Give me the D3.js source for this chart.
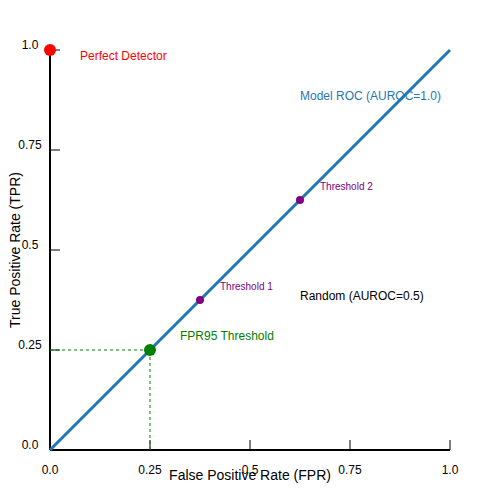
<!DOCTYPE html>
<html><head><meta charset="utf-8">
<script src="https://cdn.jsdelivr.net/npm/d3@7"></script>
<style>body{margin:0}text{font-family:"Liberation Sans",Arial,sans-serif}</style>
</head><body><svg width="500" height="500"></svg>
<script>
var svg = d3.select('svg');

var tickValues = [0, 0.25, 0.5, 0.75, 1];
var tickLabels = ['0.0', '0.25', '0.5', '0.75', '1.0'];
var rocLine = [[0, 0], [1, 1]];
var thresholds = [{name: 'Threshold 1', fpr: 0.375, tpr: 0.375}, {name: 'Threshold 2', fpr: 0.625, tpr: 0.625}];
var perfect = {fpr: 0, tpr: 1};
var fpr95 = {fpr: 0.25, tpr: 0.25};

var x = d3.scaleLinear().domain([0, 1]).range([50, 450]);
var y = d3.scaleLinear().domain([0, 1]).range([450, 50]);

// axes
svg.append('line').attr('x1', x(0)).attr('x2', x(1)).attr('y1', y(0)).attr('y2', y(0)).attr('stroke', 'black').attr('stroke-width', 2);
svg.append('line').attr('x1', x(0)).attr('x2', x(0)).attr('y1', y(0)).attr('y2', y(1)).attr('stroke', 'black').attr('stroke-width', 2);

tickValues.forEach(function (t, i) {
    svg.append('line').attr('x1', x(t)).attr('x2', x(t)).attr('y1', y(0)).attr('y2', y(0) - 10).attr('stroke', 'black');
    svg.append('text').attr('x', x(t)).attr('y', 474).attr('text-anchor', 'middle').attr('font-size', 12).text(tickLabels[i]);
    svg.append('line').attr('x1', x(0)).attr('x2', x(0) + 10).attr('y1', y(t)).attr('y2', y(t)).attr('stroke', 'black');
    svg.append('text').attr('x', 30).attr('y', y(t) - 1).attr('text-anchor', 'middle').attr('font-size', 12).text(tickLabels[i]);
});

// dashed guides
svg.append('line').attr('x1', x(0)).attr('x2', x(fpr95.fpr)).attr('y1', y(fpr95.tpr)).attr('y2', y(fpr95.tpr))
    .attr('stroke', 'green').attr('stroke-dasharray', '3,3');
svg.append('line').attr('x1', x(fpr95.fpr)).attr('x2', x(fpr95.fpr)).attr('y1', y(0)).attr('y2', y(fpr95.tpr))
    .attr('stroke', 'green').attr('stroke-dasharray', '3,3');

svg.append('path').datum(rocLine)
    .attr('d', d3.line().x(function (d) { return x(d[0]); }).y(function (d) { return y(d[1]); }))
    .attr('stroke', '#1f77b4').attr('stroke-width', 3).attr('fill', 'none');

svg.append('circle').attr('cx', x(perfect.fpr)).attr('cy', y(perfect.tpr)).attr('r', 6).attr('fill', 'red');
svg.append('circle').attr('cx', x(fpr95.fpr)).attr('cy', y(fpr95.tpr)).attr('r', 6).attr('fill', 'green');
svg.selectAll('.thr').data(thresholds).enter().append('circle')
    .attr('cx', function (d) { return x(d.fpr); })
    .attr('cy', function (d) { return y(d.tpr); })
    .attr('r', 4).attr('fill', 'purple');
svg.selectAll('.thrl').data(thresholds).enter().append('text')
    .attr('x', function (d) { return x(d.fpr) + 20; })
    .attr('y', function (d) { return y(d.tpr) - 10; })
    .attr('font-size', 10).attr('fill', 'purple')
    .text(function (d) { return d.name; });

svg.append('text').attr('x', 80).attr('y', 60).attr('font-size', 12).attr('fill', 'red').text('Perfect Detector');
svg.append('text').attr('x', 300).attr('y', 100).attr('font-size', 12).attr('fill', '#1f77b4').text('Model ROC (AUROC=1.0)');
svg.append('text').attr('x', 300).attr('y', 300).attr('font-size', 12).attr('fill', 'black').text('Random (AUROC=0.5)');
svg.append('text').attr('x', 180).attr('y', 340).attr('font-size', 12).attr('fill', 'green').text('FPR95 Threshold');

svg.append('text').attr('x', 250).attr('y', 480).attr('text-anchor', 'middle').attr('font-size', 14).text('False Positive Rate (FPR)');
svg.append('text').attr('transform', 'translate(20,250) rotate(-90)').attr('text-anchor', 'middle').attr('font-size', 14).text('True Positive Rate (TPR)');
</script></body></html>
